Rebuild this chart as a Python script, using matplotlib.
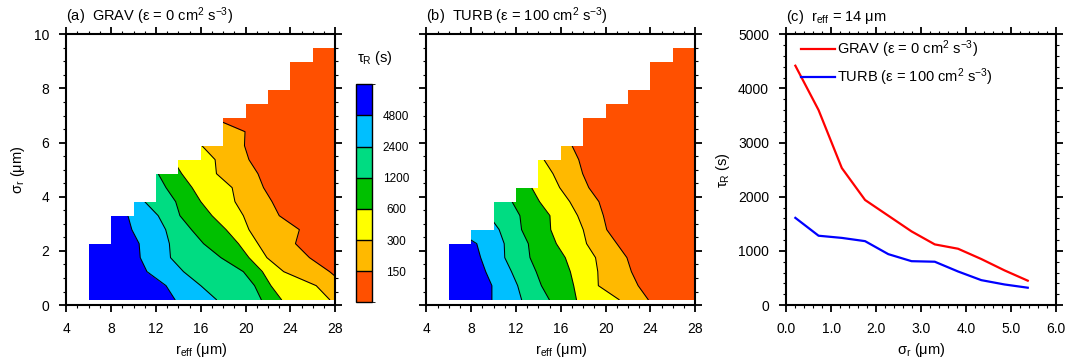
import numpy as np
import matplotlib
matplotlib.use("Agg")
import matplotlib.pyplot as plt
from matplotlib.colors import ListedColormap, BoundaryNorm
from matplotlib.path import Path
from matplotlib.patches import PathPatch
from matplotlib.ticker import MultipleLocator
import matplotlib as mpl

plt.rcParams['font.family'] = ['Liberation Sans', 'DejaVu Sans']
plt.rcParams['mathtext.fontset'] = 'custom'
plt.rcParams['mathtext.rm'] = 'Liberation Sans'
plt.rcParams['mathtext.it'] = 'Liberation Sans:italic'

# sigma_r grid (um) on which contour line positions were read
sigma = [0.2, 0.717, 1.234, 1.751, 2.268, 2.785, 3.302, 3.819, 4.336, 4.853,
         5.37, 5.887, 6.404, 6.921, 7.438, 7.955, 8.472, 8.989, 9.506]

# valid domain: r_eff bins and top sigma of each bin
r_edges = [6, 8, 10, 12, 14, 16, 18, 20, 22, 24, 26, 28]
top_grav = [2.268, 3.302, 3.819, 4.853, 5.37, 5.887, 6.921, 7.438, 7.955, 8.989, 9.506]
top_turb = [2.268, 2.785, 3.819, 4.336, 5.37, 5.887, 6.921, 7.438, 7.955, 8.989, 9.506]

levels = [4800, 2400, 1200, 600, 300, 150]
colors = ['#0000FF', '#00BFFF', '#00DC82', '#00C000', '#FFFF00', '#FFB900', '#FF5000']

# r_eff position of each tau_R contour at every sigma value (beyond the masked edge = hidden)
grav_4800 = [13.7, 12.9, 11.2, 10.6, 10.5, 9.85, 9.5, 9.0, 8.5, 8.0, 7.5, 7.0, 6.5, 4, 4, 4, 4, 4, 4]
grav_2400 = [17.4, 16.0, 14.46, 13.3, 13.2, 12.87, 12.2, 11.0, 10.5, 10.0, 9.5, 9.0, 8.5, 4, 4, 4, 4, 4, 4]
grav_1200 = [21.4, 20.8, 19.8, 17.8, 16.25, 15.17, 14.14, 13.76, 12.9, 12.2, 11.5, 11.0, 10.5, 4, 4, 4, 4, 4, 4]
grav_600 = [23.2, 22.26, 21.5, 20.3, 19.36, 18.26, 17.0, 16.0, 15.23, 14.3, 13.5, 13.0, 12.5, 4, 4, 4, 4, 4, 4]
grav_300 = [27.5, 26.3, 23.4, 21.9, 21.1, 20.3, 19.8, 19.05, 18.8, 17.4, 17.28, 16.1, 15.5, 4, 4, 4, 4, 4, 4]
grav_150 = [29.8, 29.0, 27.5, 25.7, 24.45, 24.8, 23.0, 22.36, 21.6, 21.1, 20.3, 19.9, 19.95, 17.0, 4, 4, 4, 4, 4]

turb_4800 = [9.85, 9.85, 9.3, 8.85, 8.5, 6.5, 6.0, 5.5, 5.0, 4.5, 4, 4, 4, 4, 4, 4, 4, 4, 4]
turb_2400 = [12.5, 12.15, 11.6, 11.0, 10.95, 10.5, 9.6, 9.0, 8.5, 8.0, 7.5, 7.0, 6.5, 4, 4, 4, 4, 4, 4]
turb_1200 = [14.97, 14.27, 13.8, 13.25, 13.1, 12.5, 12.35, 11.65, 11.0, 10.5, 10.0, 9.5, 9.0, 4, 4, 4, 4, 4, 4]
turb_600 = [17.4, 17.15, 16.85, 16.4, 15.6, 15.1, 15.03, 14.1, 13.4, 12.5, 12.0, 11.5, 11.0, 4, 4, 4, 4, 4, 4]
turb_300 = [21.2, 19.35, 19.3, 19.1, 18.3, 18.0, 17.5, 16.8, 15.9, 15.3, 14.5, 13.8, 13.0, 4, 4, 4, 4, 4, 4]
turb_150 = [23.8, 22.9, 22.3, 21.9, 21.0, 20.1, 19.8, 19.4, 18.5, 17.95, 17.6, 17.0, 16.0, 4, 4, 4, 4, 4, 4]

# panel (c): r_eff = 14 um
sigma_c = [0.2, 0.717, 1.234, 1.751, 2.268, 2.785, 3.302, 3.819, 4.336, 4.853, 5.37]
tau_grav = [4420, 3600, 2530, 1940, 1650, 1360, 1120, 1040, 850, 640, 450]
tau_turb = [1610, 1280, 1240, 1180, 940, 810, 800, 620, 460, 380, 320]

tick_kw = dict(direction='out', top=True, right=True, labelsize=10)


def style_axis(ax):
    for sp in ax.spines.values():
        sp.set_linewidth(1.5)
    ax.tick_params(which='major', length=5, width=1.3, pad=7.5, **tick_kw)
    ax.tick_params(which='minor', length=2.5, width=0.8, **tick_kw)


def contour_panel(ax, lines, tops, title, ylabel=True):
    # staircase outline of the valid region
    verts = [(r_edges[0], sigma[0])]
    for i, t in enumerate(tops):
        verts.append((r_edges[i], t))
        verts.append((r_edges[i + 1], t))
    verts.append((r_edges[-1], sigma[0]))
    verts.append((r_edges[0], sigma[0]))
    clip = PathPatch(Path(verts, closed=True), transform=ax.transData,
                     facecolor='none', edgecolor='none')
    ax.add_patch(clip)

    bounds = [[4] * len(sigma)] + lines + [[30] * len(sigma)]
    for k, c in enumerate(colors):
        f = ax.fill_betweenx(sigma, bounds[k], bounds[k + 1], color=c, lw=0.5, ec=c)
        f.set_clip_path(clip)
    for ln in lines:
        l, = ax.plot(ln, sigma, color='k', lw=0.75)
        l.set_clip_path(clip)

    ax.set_xlim(4, 28)
    ax.set_ylim(0, 10)
    ax.xaxis.set_major_locator(MultipleLocator(4))
    ax.xaxis.set_minor_locator(MultipleLocator(1))
    ax.yaxis.set_major_locator(MultipleLocator(2))
    ax.yaxis.set_minor_locator(MultipleLocator(0.5))
    style_axis(ax)
    ax.set_xlabel(r'r$_\mathrm{eff}$ ($\mathrm{\mu}$m)', fontsize=10.5, labelpad=3)
    if ylabel:
        ax.set_ylabel(r'σ$_\mathrm{r}$ ($\mathrm{\mu}$m)', fontsize=10.5, labelpad=5)
    else:
        ax.set_yticklabels([])
    ax.text(0, 1.05, title, transform=ax.transAxes, fontsize=10.5, ha='left', va='baseline')


fig = plt.figure(figsize=(10.69, 3.61), dpi=100)
ax_a = fig.add_axes([0.062, 0.155, 0.2516, 0.75])
ax_b = fig.add_axes([0.3988, 0.155, 0.2516, 0.75])
ax_c = fig.add_axes([0.7356, 0.155, 0.2523, 0.75])
cax = fig.add_axes([0.333, 0.1626, 0.0153, 0.604])

contour_panel(ax_a, [grav_4800, grav_2400, grav_1200, grav_600, grav_300, grav_150], top_grav,
              r'(a)  GRAV (ε = 0 cm$^\mathrm{2}$ s$^\mathrm{-3}$)')
contour_panel(ax_b, [turb_4800, turb_2400, turb_1200, turb_600, turb_300, turb_150], top_turb,
              r'(b)  TURB (ε = 100 cm$^\mathrm{2}$ s$^\mathrm{-3}$)', ylabel=False)

# colorbar
cmap = ListedColormap(colors[::-1])
norm = BoundaryNorm(np.arange(8), 7)
cb = mpl.colorbar.ColorbarBase(cax, cmap=cmap, norm=norm, drawedges=True)
cb.outline.set_linewidth(1.0)
cb.dividers.set_linewidth(1.0)
cb.set_ticks(np.arange(1, 7))
cb.set_ticklabels([str(v) for v in levels[::-1]])
cax.tick_params(length=0, pad=17, labelsize=8.5)
for t in cax.get_yticklabels():
    t.set_horizontalalignment('center')
fig.text(0.334, 0.84, r'τ$_\mathrm{R}$ (s)', fontsize=10.5, ha='left', va='center')

# panel (c)
ax_c.plot(sigma_c, tau_grav, color='#FF0000', lw=1.6,
          label=r'GRAV (ε = 0 cm$^\mathrm{2}$ s$^\mathrm{-3}$)')
ax_c.plot(sigma_c, tau_turb, color='#0000FF', lw=1.6,
          label=r'TURB (ε = 100 cm$^\mathrm{2}$ s$^\mathrm{-3}$)')
ax_c.set_xlim(0, 6)
ax_c.set_ylim(0, 5000)
ax_c.xaxis.set_major_locator(MultipleLocator(1))
ax_c.xaxis.set_minor_locator(MultipleLocator(0.2))
ax_c.yaxis.set_major_locator(MultipleLocator(1000))
ax_c.yaxis.set_minor_locator(MultipleLocator(200))
ax_c.xaxis.set_major_formatter(matplotlib.ticker.FormatStrFormatter('%.1f'))
style_axis(ax_c)
ax_c.set_xlabel(r'σ$_\mathrm{r}$ ($\mathrm{\mu}$m)', fontsize=10.5, labelpad=3)
ax_c.set_ylabel(r'τ$_\mathrm{R}$ (s)', fontsize=10.5, labelpad=4)
ax_c.text(0, 1.05, r'(c)  r$_\mathrm{eff}$ = 14 $\mathrm{\mu}$m', transform=ax_c.transAxes,
          fontsize=10.5, ha='left', va='baseline')
ax_c.legend(loc='upper left', bbox_to_anchor=(0.055, 0.985), frameon=False, fontsize=10.5,
            handlelength=2.3, handletextpad=0.15, borderaxespad=0, borderpad=0,
            labelspacing=0.45)

fig.savefig('out.png', dpi=100)
